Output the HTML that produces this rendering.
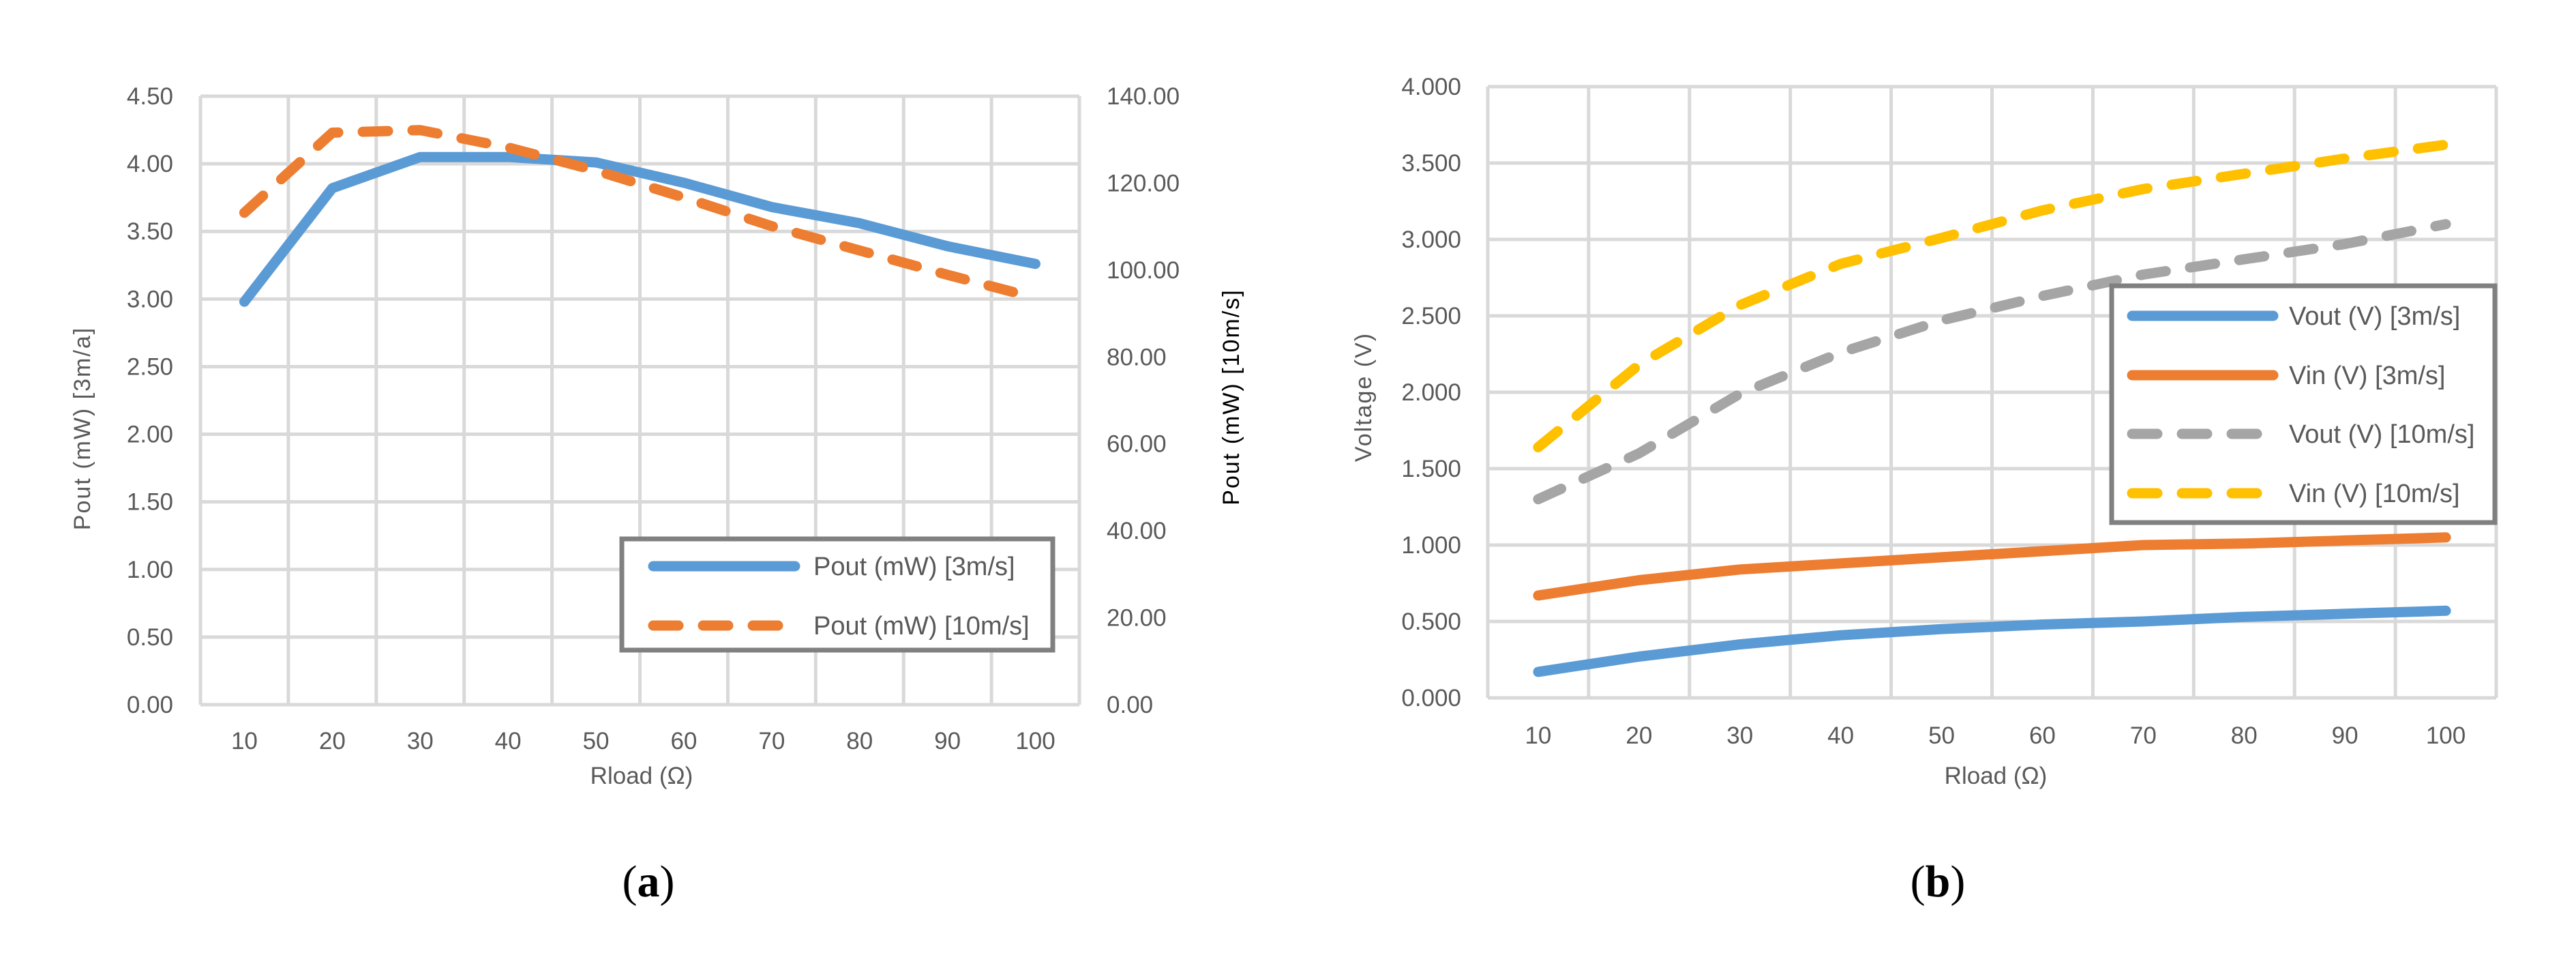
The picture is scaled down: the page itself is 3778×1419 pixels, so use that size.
<!DOCTYPE html>
<html><head><meta charset="utf-8">
<style>
html,body{margin:0;padding:0;background:#fff;}
svg{display:block;}
text{font-family:"Liberation Sans Narrow","Liberation Sans",sans-serif;fill:#595959;}
.tick{font-size:35px;}
.leg{font-size:38px;}
.ttl{font-family:"Liberation Sans",sans-serif;font-size:34px;letter-spacing:2px;}
.cap{font-family:"Liberation Serif",serif;font-size:66px;fill:#000;}
</style></head>
<body>
<svg id="svg" width="3778" height="1419" viewBox="0 0 3778 1419" xmlns="http://www.w3.org/2000/svg">
<g id="chartA"></g>
<g id="chartB"></g>
</svg>
<script>
const categories = [10,20,30,40,50,60,70,80,90,100];
const aLeftTicks = ["0.00","0.50","1.00","1.50","2.00","2.50","3.00","3.50","4.00","4.50"];
const aRightTicks = ["0.00","20.00","40.00","60.00","80.00","100.00","120.00","140.00"];
const pout3 = [2.98,3.82,4.05,4.05,4.01,3.86,3.68,3.56,3.39,3.26];
const pout10 = [113.2,131.6,132.2,128.2,122.9,116.7,110.1,104.5,98.9,93.6];
const bTicks = ["0.000","0.500","1.000","1.500","2.000","2.500","3.000","3.500","4.000"];
const vout3 = [0.17,0.27,0.35,0.41,0.45,0.48,0.50,0.53,0.55,0.57];
const vin3 = [0.67,0.77,0.84,0.88,0.92,0.96,1.00,1.01,1.03,1.05];
const vout10 = [1.30,1.60,1.99,2.26,2.47,2.63,2.77,2.87,2.97,3.10];
const vin10 = [1.64,2.18,2.57,2.84,3.01,3.19,3.33,3.43,3.53,3.62];

const NS="http://www.w3.org/2000/svg";
function mk(parent,tag,attrs,txt){const e=document.createElementNS(NS,tag);for(const k in attrs)e.setAttribute(k,attrs[k]);if(txt!==undefined)e.textContent=txt;parent.appendChild(e);return e;}

function grid(g,L,T,R,B,nY){
  const cw=(R-L)/categories.length;
  for(let i=0;i<=nY;i++){const y=B-(B-T)*i/nY;
    const l=mk(g,'line',{x1:L,x2:R,y1:y,y2:y,stroke:'#d9d9d9','stroke-width':5});
    
    }
  for(let i=0;i<=categories.length;i++){const x=L+cw*i;
    const l=mk(g,'line',{x1:x,x2:x,y1:T,y2:B,stroke:'#d9d9d9','stroke-width':5});
    
    }
}
function xlabels(g,L,R,y){
  const cw=(R-L)/categories.length;
  categories.forEach((c,i)=>{const t=mk(g,'text',{x:L+cw*(i+0.5),y:y,'text-anchor':'middle',class:'tick'},String(c));
    
    });
}
function series(g,L,R,yfn,vals,color,dash,name){
  const cw=(R-L)/categories.length;
  const pts=vals.map((v,i)=>(L+cw*(i+0.5)).toFixed(1)+','+yfn(v).toFixed(1)).join(' ');
  const a={points:pts,fill:'none',stroke:color,'stroke-width':15,'stroke-linecap':'round','stroke-linejoin':'round'};
  if(dash)a['stroke-dasharray']='37 36';
  const p=mk(g,'polyline',a);
  
  
}

// Chart A
(function(){
  const g=document.getElementById('chartA');
  const L=294,R=1583,T=141,B=1033;
  grid(g,L,T,R,B,9);
  const yl=v=>B-(B-T)*v/4.5, yr=v=>B-(B-T)*v/140;
  aLeftTicks.forEach((s,i)=>{const t=mk(g,'text',{x:254,y:B-(B-T)*i/9+12,'text-anchor':'end',class:'tick'},s);
    
    });
  aRightTicks.forEach((s,i)=>{const t=mk(g,'text',{x:1623,y:B-(B-T)*i/7+12,'text-anchor':'start',class:'tick'},s);
    
    });
  xlabels(g,L,R,1098);
  series(g,L,R,yl,pout3,'#5b9bd5',false,'line-pout-3ms');
  series(g,L,R,yr,pout10,'#ed7d31',true,'line-pout-10ms');
  let t=mk(g,'text',{x:941,y:1149,'text-anchor':'middle',class:'tick'},'Rload (Ω)');
  
  
  t=mk(g,'text',{x:0,y:0,'text-anchor':'middle',class:'ttl',transform:'translate(132,628) rotate(-90)'},'Pout  (mW) [3m/a]');
  
  
  t=mk(g,'text',{x:0,y:0,'text-anchor':'middle',class:'ttl',transform:'translate(1817,582) rotate(-90)',style:'fill:#000'},'Pout (mW) [10m/s]');
  
  
  const lg=mk(g,'g',{});
  
  
  mk(lg,'rect',{x:912,y:790,width:632,height:163,fill:'#fff',stroke:'#808080','stroke-width':7});
  mk(lg,'line',{x1:958,x2:1166,y1:830,y2:830,stroke:'#5b9bd5','stroke-width':15,'stroke-linecap':'round'});
  mk(lg,'line',{x1:958,x2:1166,y1:917,y2:917,stroke:'#ed7d31','stroke-width':15,'stroke-linecap':'round','stroke-dasharray':'37 36'});
  t=mk(lg,'text',{x:1193,y:843,class:'leg'},'Pout (mW) [3m/s]');
  
  
  t=mk(lg,'text',{x:1193,y:930,class:'leg'},'Pout (mW) [10m/s]');
  
  
  t=mk(g,'text',{x:951,y:1314,'text-anchor':'middle',class:'cap'},'');
  t.innerHTML='(<tspan font-weight="bold">a</tspan>)';
  
  
})();

// Chart B
(function(){
  const g=document.getElementById('chartB');
  const L=2182,R=3661,T=127,B=1023;
  grid(g,L,T,R,B,8);
  const y=v=>B-(B-T)*v/4;
  bTicks.forEach((s,i)=>{const t=mk(g,'text',{x:2143,y:B-(B-T)*i/8+12,'text-anchor':'end',class:'tick'},s);
    
    });
  xlabels(g,L,R,1090);
  series(g,L,R,y,vout3,'#5b9bd5',false,'line-vout-3ms');
  series(g,L,R,y,vin3,'#ed7d31',false,'line-vin-3ms');
  series(g,L,R,y,vout10,'#a5a5a5',true,'line-vout-10ms');
  series(g,L,R,y,vin10,'#ffc000',true,'line-vin-10ms');
  let t=mk(g,'text',{x:2927,y:1149,'text-anchor':'middle',class:'tick'},'Rload (Ω)');
  
  
  t=mk(g,'text',{x:0,y:0,'text-anchor':'middle',class:'ttl',transform:'translate(2011,582) rotate(-90)'},'Voltage (V)');
  
  
  const lg=mk(g,'g',{});
  
  
  mk(lg,'rect',{x:3097,y:419,width:562,height:347,fill:'#fff',stroke:'#808080','stroke-width':7});
  const items=[['Vout (V) [3m/s]','#5b9bd5',false,463],['Vin (V) [3m/s]','#ed7d31',false,550],['Vout (V) [10m/s]','#a5a5a5',true,636],['Vin (V) [10m/s]','#ffc000',true,723]];
  items.forEach(it=>{
    const a={x1:3127,x2:3334,y1:it[3],y2:it[3],stroke:it[1],'stroke-width':15,'stroke-linecap':'round'};
    if(it[2])a['stroke-dasharray']='37 36';
    mk(lg,'line',a);
    const tt=mk(lg,'text',{x:3357,y:it[3]+13,class:'leg'},it[0]);
    
    
  });
  t=mk(g,'text',{x:2842,y:1314,'text-anchor':'middle',class:'cap'},'');
  t.innerHTML='(<tspan font-weight="bold">b</tspan>)';
  
  
})();
</script>
</body></html>
